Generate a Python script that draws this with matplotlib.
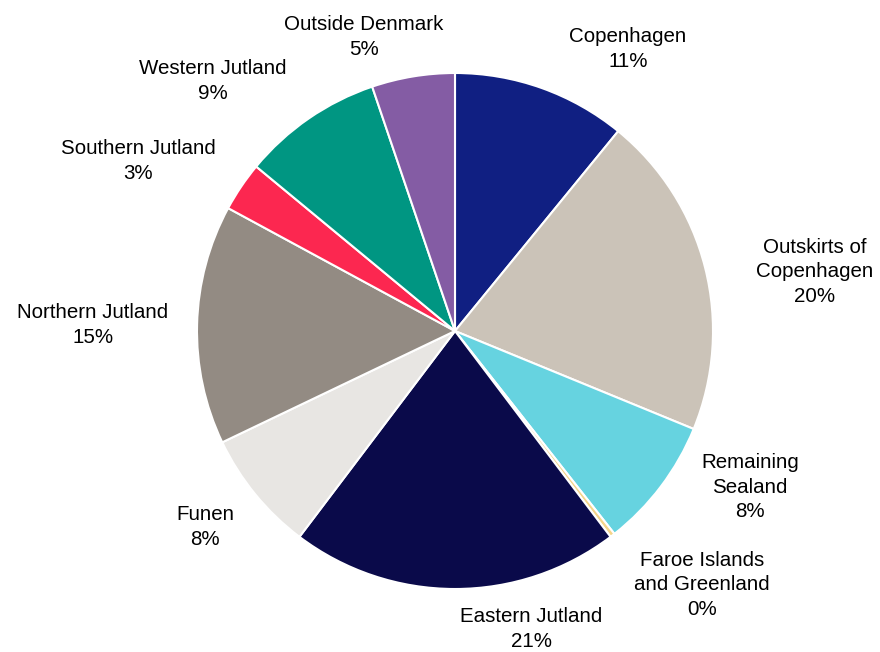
import matplotlib.pyplot as plt

# Share of respondents by region
regions = ["Copenhagen", "Outskirts of\nCopenhagen", "Remaining\nSealand",
           "Faroe Islands\nand Greenland", "Eastern Jutland", "Funen",
           "Northern Jutland", "Southern Jutland", "Western Jutland",
           "Outside Denmark"]
shares = [10.9, 20.3, 8.2, 0.3, 20.6, 7.6, 15.0, 3.1, 8.8, 5.2]
colors = ["#101f82", "#cbc3b8", "#66d3e0", "#f5d58a", "#0a0a4a",
          "#e8e6e3", "#938b83", "#fc2750", "#009682", "#845ca4"]

# label anchor points, in units of the pie radius
label_pos = [(0.671, 1.093), (1.395, 0.229), (1.143, -0.605),
             (0.957, -0.983), (0.295, -1.155), (-0.969, -0.760),
             (-1.403, 0.023), (-1.229, 0.659), (-0.938, 0.969),
             (-0.353, 1.140)]

plt.rcParams['font.family'] = ['Liberation Sans', 'DejaVu Sans']

fig = plt.figure(figsize=(8.8, 6.52), dpi=100)
ax = fig.add_axes([0, 0, 1, 1])

ax.pie(shares, colors=colors, startangle=90, counterclock=False,
       wedgeprops=dict(edgecolor="white", linewidth=1.5))

for name, val, (x, y) in zip(regions, shares, label_pos):
    ax.text(x, y, f"{name}\n{val:.0f}%", ha="center", va="center",
            fontsize=14.8, linespacing=1.36, color="black")

ax.set_xlim(-455 / 258, 425 / 258)
ax.set_ylim(-321 / 258, 331 / 258)
ax.set_aspect("equal")
ax.axis("off")

fig.savefig("out.png", dpi=100)
